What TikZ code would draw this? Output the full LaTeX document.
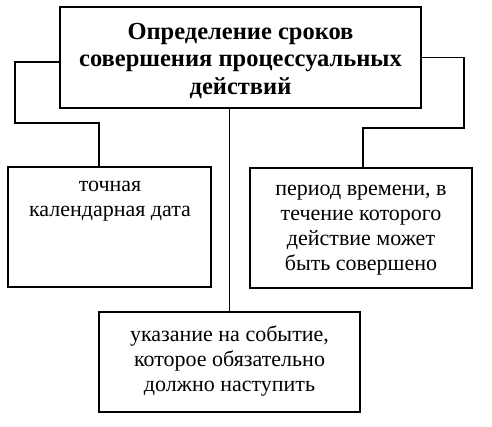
\documentclass[tikz,border=0pt]{standalone}
\usepackage{fontspec}
\setmainfont{Liberation Serif}
\begin{document}
\begin{tikzpicture}[x=1pt,y=1pt,
  box/.style={draw=black,line width=1.6pt,rectangle,inner sep=0pt},
  conn/.style={draw=black,line width=1.4pt},
  txt/.style={align=center,inner sep=0pt,font=\fontsize{22}{25}\selectfont},
  ttxt/.style={align=center,inner sep=0pt,font=\fontsize{24.5}{27.5}\selectfont\bfseries}]
\useasboundingbox (0,0) rectangle (492,-426);
\fill[white] (0,0) rectangle (492,-426);
% boxes
\node[box,minimum width=361pt,minimum height=101pt] (top) at (240.5,-57.5) {};
\node[box,minimum width=203pt,minimum height=120pt] (left) at (109.5,-227) {};
\node[box,minimum width=222pt,minimum height=120pt] (right) at (361,-228) {};
\node[box,minimum width=261pt,minimum height=100pt] (bottom) at (229.5,-362) {};
% texts
\node[ttxt] (toptext) at (240.5,-61) {Определение сроков\\совершения процессуальных\\действий};
\node[txt] (lefttext) at (110,-201) {точная\\календарная дата};
\node[txt] (righttext) at (361,-230) {период времени, в\\течение которого\\действие может\\быть совершено};
\node[txt] (bottomtext) at (229.5,-361) {указание на событие,\\которое обязательно\\должно наступить};
% connectors
\coordinate (lbend) at (15,-123);
\coordinate (rbend) at (464,-128);
\draw[conn] ([yshift=-4.5pt]top.west) -| (lbend) -| ([xshift=-10.5pt]left.north);
\draw[conn] (top.east) -| (rbend) -| ([xshift=2pt]right.north);
\draw[conn] (top.south -| bottom.north) -- (bottom.north);
\end{tikzpicture}
\end{document}
